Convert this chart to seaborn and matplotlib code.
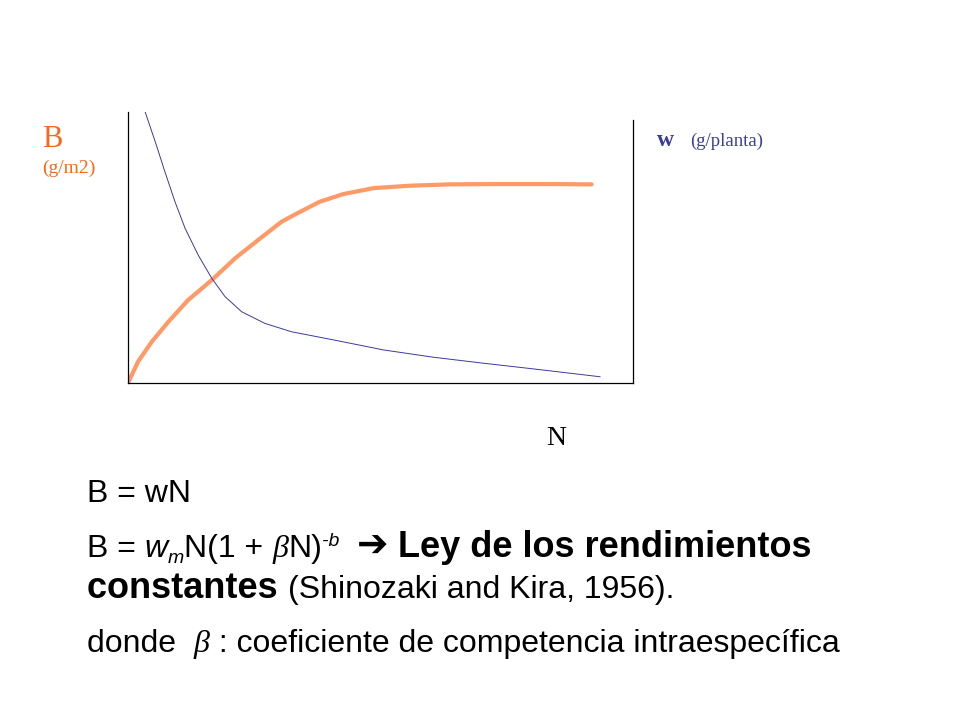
import matplotlib
matplotlib.use("Agg")
import numpy as np
import pandas as pd
import matplotlib.pyplot as plt
import seaborn as sns

# curves (x: density N, y: relative units 0-100)
biomass_n = [0, 2.0, 4.7, 8.0, 11.9, 16.6, 21.2, 25.8, 30.4, 34.1, 38.0,
             42.6, 48.6, 55.8, 63.8, 73.7, 83.6, 91.8]
biomass_b = [0, 7.9, 15.2, 22.6, 30.6, 38.0, 46.0, 52.8, 59.5, 63.2, 66.9,
             69.7, 71.9, 72.8, 73.3, 73.4, 73.4, 73.3]

weight_n = [3.4, 5.4, 7.3, 9.3, 11.3, 13.9, 16.6, 19.2, 22.5, 27.1, 32.4,
            40.7, 50.6, 60.5, 70.4, 80.3, 93.5]
weight_w = [100, 89.0, 78.0, 66.9, 57.1, 47.2, 38.6, 31.9, 26.3, 22.0, 18.9,
            15.9, 12.2, 9.5, 7.3, 5.2, 2.3]

orange = "#FF9966"
orange_txt = "#F26A1B"
blue = "#3B3B9B"

sns.set_style("white")

fig = plt.figure(figsize=(9.6, 7.2), dpi=100, facecolor="white")
ax = fig.add_axes([128 / 960, 1 - 383 / 720, 505 / 960, 271 / 720])

sns.lineplot(x=biomass_n, y=biomass_b, ax=ax, color=orange, linewidth=3.0)
sns.lineplot(x=weight_n, y=weight_w, ax=ax, color=blue, linewidth=0.7)

ax.set_xlim(0, 100)
ax.set_ylim(0, 100)
ax.set_xticks([])
ax.set_yticks([])
ax.set_xlabel("")
ax.set_ylabel("")
ax.set_facecolor("white")
for side in ["left", "bottom", "right"]:
    ax.spines[side].set_visible(True)
    ax.spines[side].set_color("black")
    ax.spines[side].set_linewidth(0.9)
ax.spines["top"].set_visible(False)
ax.spines["right"].set_bounds(0, 97)

serif = "Liberation Serif"
fig.text(42 / 960, 1 - 147 / 720, "B", family=serif, fontsize=22, color=orange_txt)
fig.text(42 / 960, 1 - 173 / 720, "(g/m2)", family=serif, fontsize=14, color=orange_txt)
fig.text(657 / 960, 1 - 146 / 720, "w", family=serif, fontsize=17, weight="bold", color=blue)
fig.text(690 / 960, 1 - 146 / 720, "(g/planta)", family=serif, fontsize=13.5, color=blue)
fig.text(546 / 960, 1 - 445 / 720, "N", family=serif, fontsize=20, color="black")

renderer = fig.canvas.get_renderer()


def put_row(x_px, base_px, pieces):
    # write pieces one after another; dy shifts a piece down (+) or up (-) in pixels
    x = x_px
    for txt, kw, dy in pieces:
        t = fig.text(x / 960, 1 - (base_px + dy) / 720, txt, va="baseline", **kw)
        x = t.get_window_extent(renderer).x1


sans = dict(family="Liberation Sans", fontsize=23, color="black")
sans_it = dict(family="Liberation Sans", fontsize=23, style="italic", color="black")
small_it = dict(family="Liberation Sans", fontsize=14, style="italic", color="black")
greek = dict(family="Liberation Serif", fontsize=23, style="italic", color="black")
bold = dict(family="Liberation Sans", fontsize=26, color="black", weight="bold")
arrow = dict(family="DejaVu Sans", fontsize=27, color="black", weight="bold")

put_row(87, 502, [("B = wN", sans, 0)])
put_row(87, 557, [("B = ", sans, 0),
                  ("w", sans_it, 0),
                  ("m", small_it, 6),
                  ("N(1 + ", sans, 0),
                  ("\u03b2", greek, 0),
                  ("N)", sans, 0),
                  ("-b", small_it, -11),
                  ("  ", sans, 0),
                  ("\u2794", arrow, 0),
                  (" Ley de los rendimientos", bold, 0)])
put_row(87, 598, [("constantes ", bold, 0),
                  ("(Shinozaki and Kira, 1956).", sans, 0)])
put_row(87, 652, [("donde  ", sans, 0),
                  ("\u03b2", greek, 0),
                  (" : coeficiente de competencia intraespecífica", sans, 0)])

fig.savefig("out.png", dpi=100, facecolor="white")
